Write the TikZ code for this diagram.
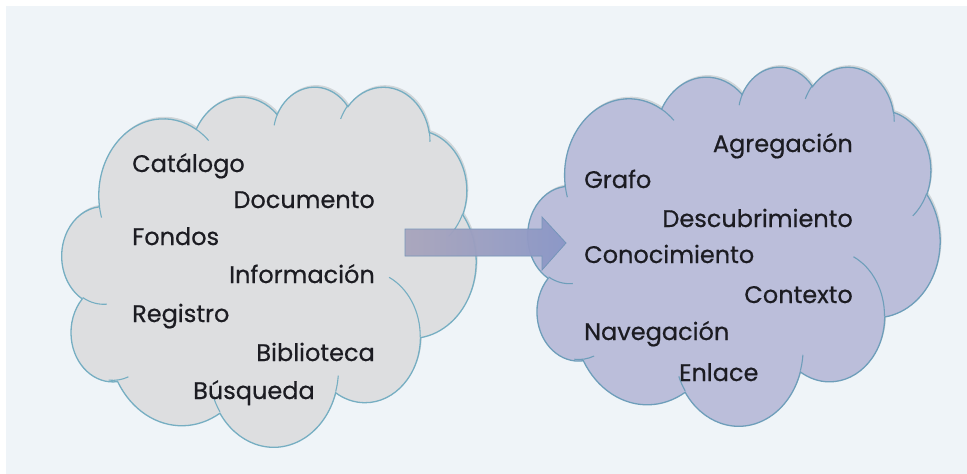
\documentclass[tikz,border=0pt]{standalone}
\usepackage{fontspec}
\setmainfont{Poppins}
\newfontfamily\lblfont{Poppins}[FakeBold=0.5]
\definecolor{bgc}{RGB}{239,244,248}
\definecolor{lfill}{RGB}{221,222,224}
\definecolor{rfill}{RGB}{187,190,218}
\definecolor{lborder}{RGB}{118,174,194}
\definecolor{rborder}{RGB}{110,158,186}
\definecolor{txt}{RGB}{28,28,34}
\definecolor{arrL}{RGB}{170,166,190}
\definecolor{arrR}{RGB}{140,152,200}
\definecolor{arrB}{RGB}{118,150,186}
% elliptical arc in DrawingML convention (visual angles, degrees)
\newcommand\cldarc[4]{%
  \pgfmathsetmacro\cdA{atan2((#1)*sin(#3),(#2)*cos(#3))-(#3)}%
  \pgfmathsetmacro\cdA{mod(\cdA+540,360)-180}%
  \pgfmathsetmacro\ctA{(#3)+\cdA}%
  \pgfmathsetmacro\cthB{(#3)+(#4)}%
  \pgfmathsetmacro\cdB{atan2((#1)*sin(\cthB),(#2)*cos(\cthB))-\cthB}%
  \pgfmathsetmacro\cdB{mod(\cdB+540,360)-180}%
  \pgfmathsetmacro\ctB{\cthB+\cdB}%
  \pgfpatharc{\ctA}{\ctB}{#1pt and #2pt}%
}
\newcommand\cloudmain{%
  \pgfpathmoveto{\pgfpoint{39pt}{143.7pt}}%
  \cldarc{67.53}{91.90}{-190.48748}{123.78053}%
  \cldarc{53.33}{72.67}{-144.10238}{89.94523}%
  \cldarc{43.65}{59.45}{-145.80792}{99.72302}%
  \cldarc{48.57}{65.95}{-130.98607}{117.24173}%
  \cldarc{53.33}{72.73}{-78.70888}{109.02692}%
  \cldarc{67.75}{92.20}{-46.26725}{130.269}%
  \cldarc{57.85}{78.67}{0.62502}{114.03333}%
  \cldarc{67.52}{92.15}{22.4516}{115.17255}%
  \cldarc{77.20}{105.43}{66.24263}{75.71102}%
  \cldarc{43.60}{59.18}{-274.94208}{146.73557}%
  \cldarc{43.45}{59.45}{-246.8285}{152.51885}%
  \pgfpathclose
}
\newcommand\cloudinner{%
  \pgfpathmoveto{\pgfpoint{46.93pt}{261.77pt}}\cldarc{43.45}{59.45}{86.742}{26.4295}%
  \pgfpathmoveto{\pgfpoint{69.28pt}{348.99pt}}\cldarc{43.60}{59.18}{73.61047}{20.7446}%
  \pgfpathmoveto{\pgfpoint{164.78pt}{390.90pt}}\cldarc{67.52}{92.15}{137.62415}{14.0811}%
  \pgfpathmoveto{\pgfpoint{288.27pt}{347.51pt}}\cldarc{67.52}{92.15}{6.45327}{15.99835}%
  \pgfpathmoveto{\pgfpoint{341.29pt}{229.54pt}}\cldarc{57.85}{78.67}{-70.29235}{70.91737}%
  \pgfpathmoveto{\pgfpoint{417.98pt}{153.54pt}}\cldarc{53.33}{72.73}{30.31803}{27.7515}%
  \pgfpathmoveto{\pgfpoint{383.24pt}{54.26pt}}\cldarc{48.57}{65.95}{-13.74433}{14.8589}%
  \pgfpathmoveto{\pgfpoint{290.78pt}{39.52pt}}\cldarc{48.57}{65.95}{-149.18145}{18.19537}%
  \pgfpathmoveto{\pgfpoint{221.41pt}{47.20pt}}\cldarc{43.65}{59.45}{-163.49427}{17.83723}%
  \pgfpathmoveto{\pgfpoint{140.00pt}{51.92pt}}\cldarc{67.53}{91.90}{-66.70695}{12.31935}%
  \pgfpathmoveto{\pgfpoint{41.27pt}{157.89pt}}\cldarc{67.53}{91.90}{157.65435}{11.85817}%
}
% #1 fill colour, #2 border colour
\newcommand\drawcloud[2]{%
  \begin{scope}[shift={(1.5,2.5)}]
    \pgfsetfillcolor{black}\pgfsetfillopacity{0.12}%
    \cloudmain\pgfusepath{fill}%
  \end{scope}
  \pgfsetfillopacity{1}%
  \pgfsetfillcolor{#1}\pgfsetstrokecolor{#2}\pgfsetlinewidth{1.3pt}%
  \cloudmain\pgfusepath{fill,stroke}%
  \pgfsetlinewidth{1.1pt}%
  \cloudinner\pgfusepath{stroke}%
}
\tikzset{
  lbl/.style={inner sep=0pt, text=txt, font=\lblfont\fontsize{24}{28}\selectfont},
}
\begin{document}
\begin{tikzpicture}[x=1pt, y=-1pt]
\useasboundingbox (0,0) rectangle (967,474);
\fill[white] (0,0) rectangle (967,474);
\fill[bgc] (6,6) rectangle (967,474);

% left cloud
\begin{scope}[shift={(62,86)}, xscale=414/432, yscale=-360/432]
  \drawcloud{lfill}{lborder}
\end{scope}
\coordinate (leftcloud) at (269,266);

% right cloud
\begin{scope}[shift={(528,66)}, xscale=412/432, yscale=-359/432]
  \drawcloud{rfill}{rborder}
\end{scope}
\coordinate (rightcloud) at (734,246);

% block arrow
\coordinate (a1) at (405,229);
\coordinate (a2) at (542,229);
\coordinate (a3) at (542,217);
\coordinate (tip) at (566,243);
\coordinate (a5) at (542,270);
\coordinate (a6) at (542,256);
\coordinate (a7) at (405,256);
\fill[black, opacity=0.15, shift={(2,2.5)}] (a1) -- (a2) -- (a3) -- (tip) -- (a5) -- (a6) -- (a7) -- cycle;
\shade[left color=arrL, right color=arrR, draw=arrB, line width=0.8pt, fill opacity=0.95]
  (a1) -- (a2) -- (a3) -- (tip) -- (a5) -- (a6) -- (a7) -- cycle;

% left words
\node[lbl, anchor=base west] (catalogo) at (132,172) {Catálogo};
\node[lbl, anchor=base east] (documento) at (375,208) {Documento};
\node[lbl, anchor=base west] (fondos) at (132,245) {Fondos};
\node[lbl, anchor=base east] (informacion) at (375,283) {Información};
\node[lbl, anchor=base west] (registro) at (132,322) {Registro};
\node[lbl, anchor=base east] (biblioteca) at (375,361) {Biblioteca};
\node[lbl, anchor=base west] (busqueda) at (193,399) {Búsqueda};

% right words
\node[lbl, anchor=base east] (agregacion) at (853,152) {Agregación};
\node[lbl, anchor=base west] (grafo) at (584,188) {Grafo};
\node[lbl, anchor=base east] (descubrimiento) at (853,227) {Descubrimiento};
\node[lbl, anchor=base west] (conocimiento) at (584,263) {Conocimiento};
\node[lbl, anchor=base east] (contexto) at (853,303) {Contexto};
\node[lbl, anchor=base west] (navegacion) at (584,340) {Navegación};
\node[lbl, anchor=base west] (enlace) at (679,381) {Enlace};
\end{tikzpicture}
\end{document}
